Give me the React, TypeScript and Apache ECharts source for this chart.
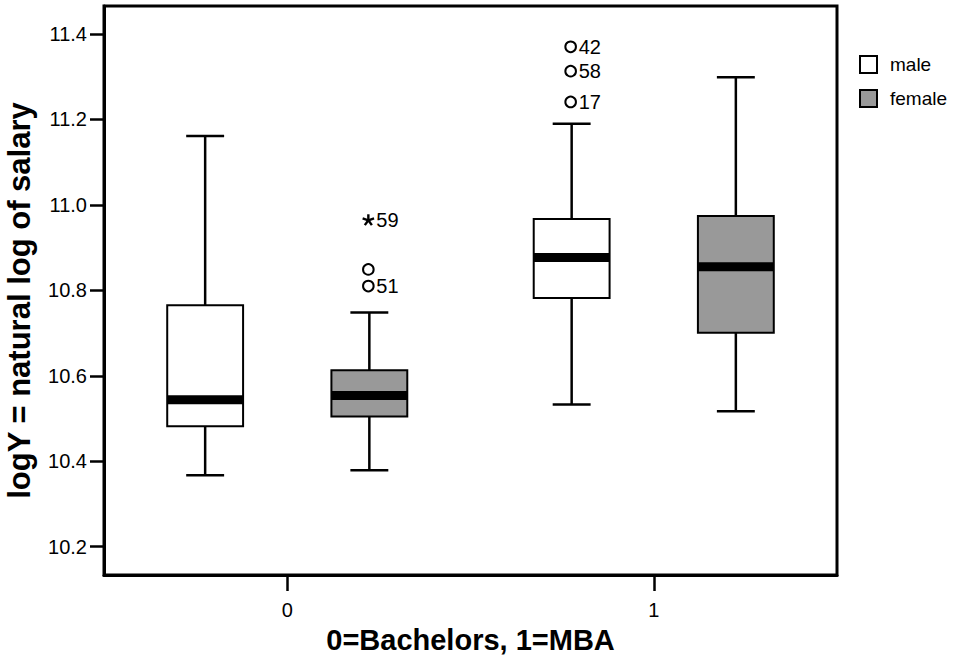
import React, { useEffect, useRef } from 'react';
import * as echarts from 'echarts';

// ---- data ----
const categories = ['0', '1'];
const yTickValues = [10.2, 10.4, 10.6, 10.8, 11.0, 11.2, 11.4];
const yMin = 10.1338;
const yMax = 11.4655;
// [category index, lower whisker, Q1, median, Q3, upper whisker]
const maleBoxes = [
  [0, 10.367, 10.482, 10.544, 10.765, 11.161],
  [1, 10.533, 10.782, 10.877, 10.967, 11.19],
];
const femaleBoxes = [
  [0, 10.379, 10.505, 10.554, 10.613, 10.748],
  [1, 10.517, 10.701, 10.855, 10.974, 11.299],
];
// [category index, value]
const maleOutliers = [
  [1, 11.37],
  [1, 11.313],
  [1, 11.241],
];
const maleOutlierLabels = ['42', '58', '17'];
const maleOutlierKinds = ['o', 'o', 'o'];
const femaleOutliers = [
  [0, 10.964],
  [0, 10.849],
  [0, 10.81],
];
const femaleOutlierLabels = ['59', '', '51'];
const femaleOutlierKinds = ['*', 'o', 'o'];

const FONT = '"Liberation Sans", Arial, Helvetica, sans-serif';
const OFFSET_RATIO = 0.224;
const BOX_RATIO = 0.207;
const MALE_FILL = '#ffffff';
const FEMALE_FILL = '#999999';

const makeBoxRenderer = (side: number, fill: string) => (params: any, api: any) => {
  const cat = api.value(0);
  const band = api.size([1, 0])[0];
  const w = band * BOX_RATIO;
  const base = api.coord([cat, api.value(1)]);
  const cx = base[0] + side * band * OFFSET_RATIO;
  const yLow = base[1];
  const yQ1 = api.coord([cat, api.value(2)])[1];
  const yMed = api.coord([cat, api.value(3)])[1];
  const yQ3 = api.coord([cat, api.value(4)])[1];
  const yHigh = api.coord([cat, api.value(5)])[1];
  const ls = { stroke: '#000', lineWidth: 2.5 };
  return {
    type: 'group',
    children: [
      { type: 'line', shape: { x1: cx, y1: yLow, x2: cx, y2: yQ1 }, style: ls },
      { type: 'line', shape: { x1: cx, y1: yQ3, x2: cx, y2: yHigh }, style: ls },
      { type: 'line', shape: { x1: cx - w / 4, y1: yLow, x2: cx + w / 4, y2: yLow }, style: ls },
      { type: 'line', shape: { x1: cx - w / 4, y1: yHigh, x2: cx + w / 4, y2: yHigh }, style: ls },
      {
        type: 'rect',
        shape: { x: cx - w / 2, y: yQ3, width: w, height: yQ1 - yQ3 },
        style: { fill, stroke: '#000', lineWidth: 2 },
      },
      {
        type: 'rect',
        shape: { x: cx - w / 2, y: yMed - 4.5, width: w, height: 9 },
        style: { fill: '#000' },
      },
    ],
  };
};

const makeOutlierRenderer =
  (side: number, labels: string[], kinds: string[]) => (params: any, api: any) => {
    const i = params.dataIndex;
    const cat = api.value(0);
    const band = api.size([1, 0])[0];
    const p = api.coord([cat, api.value(1)]);
    const cx = p[0] + side * band * OFFSET_RATIO - 1;
    const cy = p[1];
    const children: any[] = [];
    if (kinds[i] === '*') {
      for (let k = 0; k < 5; k++) {
        const a = -Math.PI / 2 + (k * 2 * Math.PI) / 5;
        children.push({
          type: 'line',
          shape: { x1: cx, y1: cy, x2: cx + 6 * Math.cos(a), y2: cy + 6 * Math.sin(a) },
          style: { stroke: '#000', lineWidth: 2.4 },
        });
      }
    } else {
      children.push({
        type: 'circle',
        shape: { cx, cy, r: 5.3 },
        style: { fill: '#fff', stroke: '#000', lineWidth: 2 },
      });
    }
    if (labels[i]) {
      children.push({
        type: 'text',
        x: cx + 8,
        y: cy,
        style: {
          text: labels[i],
          fill: '#000',
          fontSize: 20,
          fontFamily: FONT,
          align: 'left',
          verticalAlign: 'middle',
        },
      });
    }
    return { type: 'group', children };
  };

export default function App() {
  const ref = useRef<HTMLDivElement>(null);
  useEffect(() => {
    if (!ref.current) return;
    const chart = echarts.init(ref.current, null, { renderer: 'svg' });
    chart.setOption({
      animation: false,
      backgroundColor: '#fff',
      textStyle: { fontFamily: FONT },
      grid: {
        left: 104,
        right: 116,
        top: 6,
        bottom: 86,
        containLabel: false,
        outerBoundsMode: 'none',
        show: true,
        borderColor: '#000',
        borderWidth: 3,
        backgroundColor: 'transparent',
      },
      legend: {
        orient: 'vertical',
        left: 859,
        top: 55,
        padding: 0,
        itemWidth: 17,
        itemHeight: 17,
        itemGap: 15,
        icon: 'rect',
        selectedMode: false,
        textStyle: { fontSize: 19, color: '#000', fontFamily: FONT, padding: [0, 0, 0, 8] },
        data: [
          { name: 'male', itemStyle: { color: MALE_FILL, borderColor: '#000', borderWidth: 2 } },
          { name: 'female', itemStyle: { color: FEMALE_FILL, borderColor: '#000', borderWidth: 2 } },
        ],
      },
      xAxis: {
        type: 'category',
        data: categories,
        boundaryGap: true,
        axisLine: { show: true, lineStyle: { color: '#000', width: 3 } },
        axisTick: { show: true, alignWithLabel: true, length: 16, lineStyle: { color: '#000', width: 2.5 } },
        axisLabel: { fontSize: 20, color: '#000', margin: 25, fontFamily: FONT },
        splitLine: { show: false },
        name: '0=Bachelors, 1=MBA',
        nameLocation: 'middle',
        nameGap: 50,
        nameTextStyle: { fontSize: 29, fontWeight: 'bold', color: '#000', fontFamily: FONT },
      },
      yAxis: {
        type: 'value',
        min: yMin,
        max: yMax,
        axisLine: { show: true, lineStyle: { color: '#000', width: 3 } },
        axisTick: { show: true, length: 14, customValues: yTickValues, lineStyle: { color: '#000', width: 2.5 } },
        axisLabel: {
          customValues: yTickValues,
          fontSize: 20,
          color: '#000',
          margin: 17,
          fontFamily: FONT,
          formatter: (v: number) => v.toFixed(1),
        },
        splitLine: { show: false },
        name: 'logY = natural log of salary',
        nameLocation: 'middle',
        nameGap: 69,
        nameTextStyle: {
          fontSize: 31,
          fontWeight: 'bold',
          color: '#000',
          fontFamily: FONT,
          padding: [0, 20, 0, 0],
        },
      },
      series: [
        {
          name: 'male',
          type: 'custom',
          itemStyle: { color: MALE_FILL },
          renderItem: makeBoxRenderer(-1, MALE_FILL),
          encode: { x: 0, y: [1, 2, 3, 4, 5] },
          data: maleBoxes,
          z: 2,
        },
        {
          name: 'female',
          type: 'custom',
          itemStyle: { color: FEMALE_FILL },
          renderItem: makeBoxRenderer(1, FEMALE_FILL),
          encode: { x: 0, y: [1, 2, 3, 4, 5] },
          data: femaleBoxes,
          z: 2,
        },
        {
          name: 'male outliers',
          type: 'custom',
          renderItem: makeOutlierRenderer(-1, maleOutlierLabels, maleOutlierKinds),
          encode: { x: 0, y: 1 },
          data: maleOutliers,
          z: 3,
        },
        {
          name: 'female outliers',
          type: 'custom',
          renderItem: makeOutlierRenderer(1, femaleOutlierLabels, femaleOutlierKinds),
          encode: { x: 0, y: 1 },
          data: femaleOutliers,
          z: 3,
        },
      ],
    });
    return () => chart.dispose();
  }, []);
  return (
    <div
      ref={ref}
      style={{ position: 'absolute', left: 0, top: 0, width: 953, height: 661 }}
    />
  );
}
